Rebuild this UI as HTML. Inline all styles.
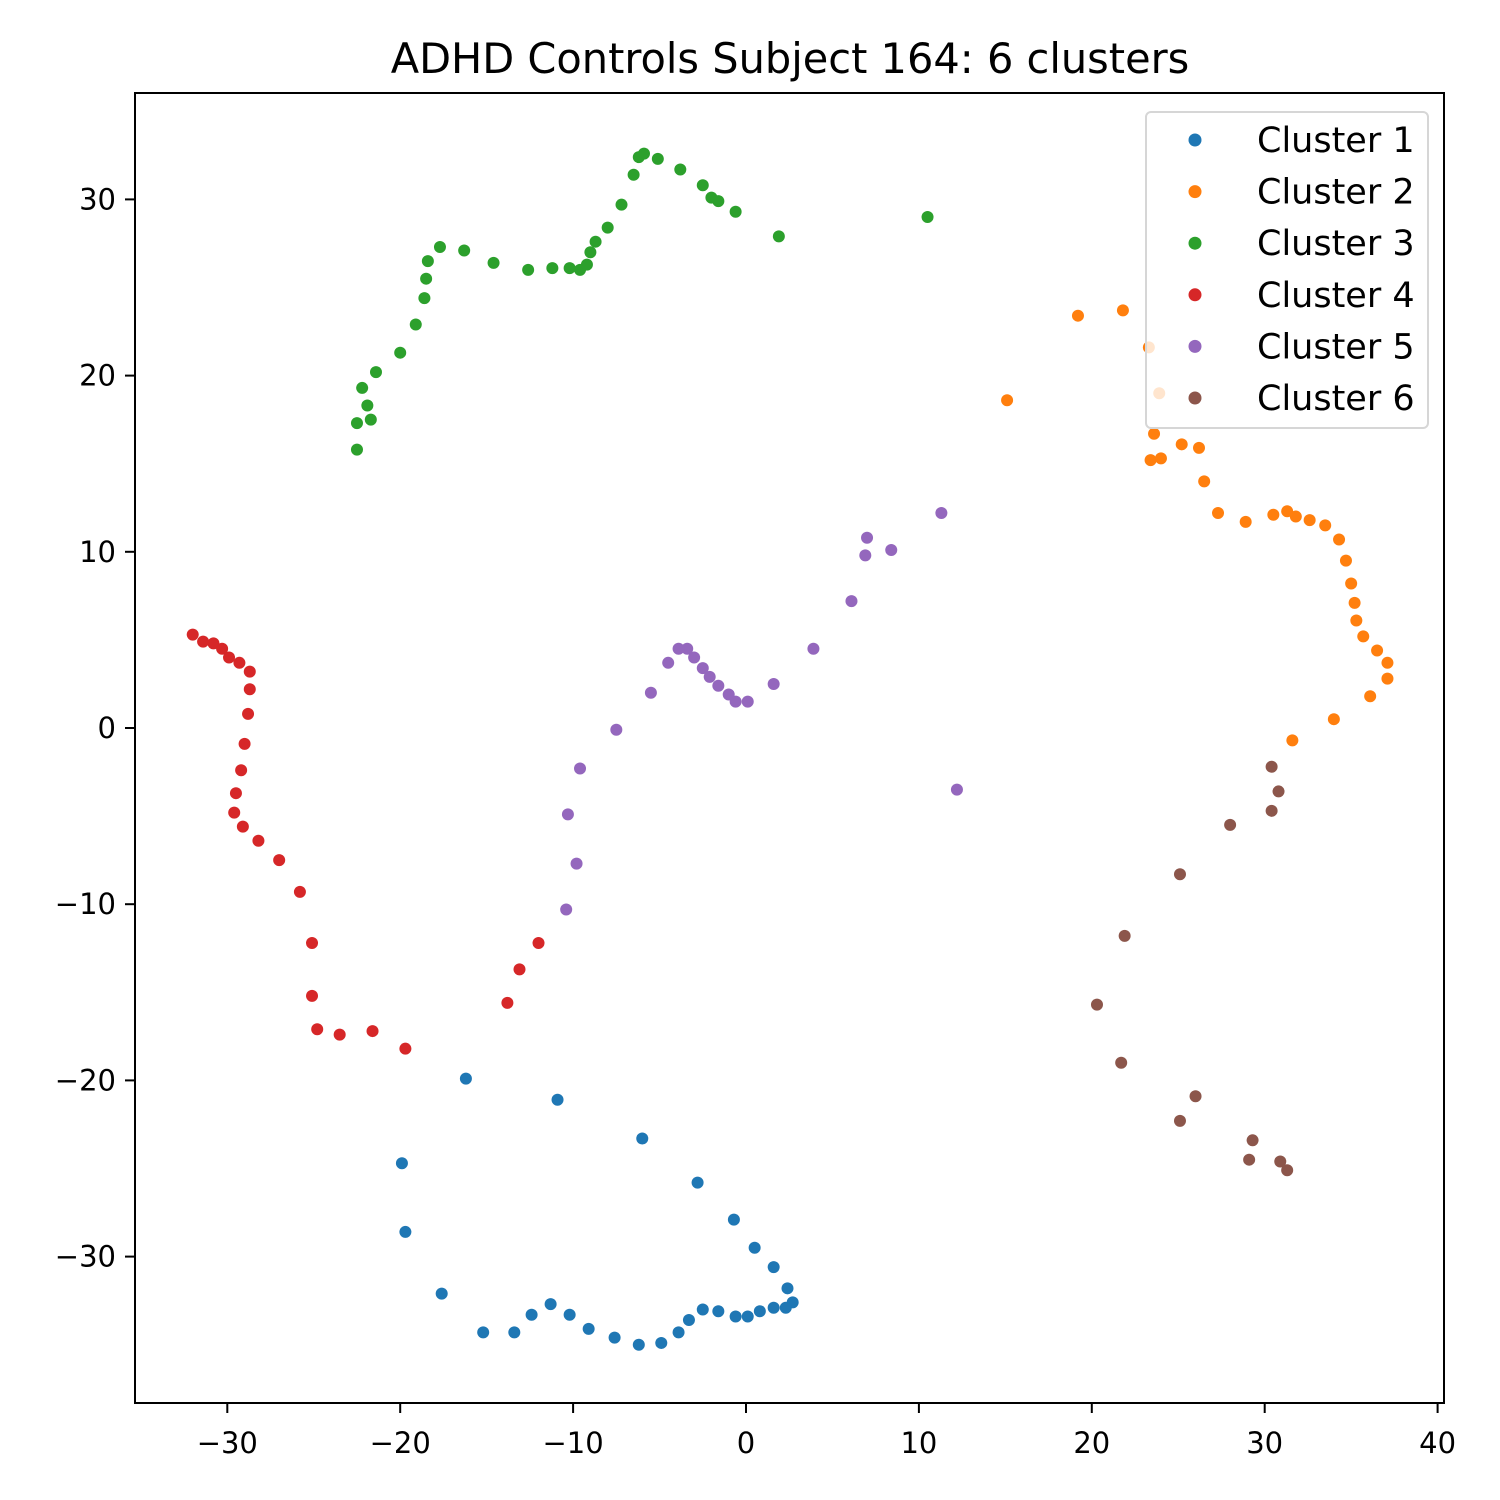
<!DOCTYPE html>
<html><head><meta charset="utf-8"><style>
html,body{margin:0;padding:0;background:#fff;}
svg{display:block;font-family:"DejaVu Sans","Liberation Sans",sans-serif;}
</style></head><body>
<svg id="chart" width="1500" height="1500" viewBox="0 0 1500 1500" xmlns="http://www.w3.org/2000/svg">
<rect width="1500" height="1500" fill="#fff"/>
<text x="790" y="73" font-size="41.5" text-anchor="middle">ADHD Controls Subject 164: 6 clusters</text>
<g id="points"></g>
<rect x="135" y="93" width="1309" height="1310" fill="none" stroke="#000" stroke-width="2"/>
<g id="ticks"></g>
<g id="legend"></g>
</svg>
<script>
const c1x=[-16.2,-10.9,-19.9,-6.0,-19.7,-2.8,-17.6,-0.7,0.5,1.6,2.4,2.7,2.3,1.6,0.8,0.1,-0.6,-1.6,-2.5,-3.3,-3.9,-4.9,-6.2,-7.6,-9.1,-10.2,-11.3,-12.4,-13.4,-15.2];
const c1y=[-19.9,-21.1,-24.7,-23.3,-28.6,-25.8,-32.1,-27.9,-29.5,-30.6,-31.8,-32.6,-32.9,-32.9,-33.1,-33.4,-33.4,-33.1,-33.0,-33.6,-34.3,-34.9,-35.0,-34.6,-34.1,-33.3,-32.7,-33.3,-34.3,-34.3];
const c2x=[15.1,19.2,21.8,23.3,23.9,23.6,23.4,24.0,25.2,26.2,26.5,27.3,28.9,30.5,31.3,31.8,32.6,33.5,34.3,34.7,35.0,35.2,35.3,35.7,36.5,37.1,37.1,36.1,34.0,31.6];
const c2y=[18.6,23.4,23.7,21.6,19.0,16.7,15.2,15.3,16.1,15.9,14.0,12.2,11.7,12.1,12.3,12.0,11.8,11.5,10.7,9.5,8.2,7.1,6.1,5.2,4.4,3.7,2.8,1.8,0.5,-0.7];
const c3x=[-22.5,-22.5,-21.7,-21.9,-22.2,-21.4,-20.0,-19.1,-18.6,-18.5,-18.4,-17.7,-16.3,-14.6,-12.6,-11.2,-10.2,-9.6,-9.2,-9.0,-8.7,-8.0,-7.2,-6.5,-6.2,-5.9,-5.1,-3.8,-2.5,-2.0,-1.6,-0.6,1.9,10.5];
const c3y=[15.8,17.3,17.5,18.3,19.3,20.2,21.3,22.9,24.4,25.5,26.5,27.3,27.1,26.4,26.0,26.1,26.1,26.0,26.3,27.0,27.6,28.4,29.7,31.4,32.4,32.6,32.3,31.7,30.8,30.1,29.9,29.3,27.9,29.0];
const c4x=[-32.0,-31.4,-30.8,-30.3,-29.9,-29.3,-28.7,-28.7,-28.8,-29.0,-29.2,-29.5,-29.6,-29.1,-28.2,-27.0,-25.8,-25.1,-25.1,-24.8,-23.5,-21.6,-19.7,-13.8,-13.1,-12.0];
const c4y=[5.3,4.9,4.8,4.5,4.0,3.7,3.2,2.2,0.8,-0.9,-2.4,-3.7,-4.8,-5.6,-6.4,-7.5,-9.3,-12.2,-15.2,-17.1,-17.4,-17.2,-18.2,-15.6,-13.7,-12.2];
const c5x=[11.3,7.0,6.9,8.4,6.1,3.9,1.6,0.1,-0.6,-1.0,-1.6,-2.1,-2.5,-3.0,-3.4,-3.9,-4.5,-5.5,-7.5,-9.6,-10.3,-9.8,-10.4,12.2];
const c5y=[12.2,10.8,9.8,10.1,7.2,4.5,2.5,1.5,1.5,1.9,2.4,2.9,3.4,4.0,4.5,4.5,3.7,2.0,-0.1,-2.3,-4.9,-7.7,-10.3,-3.5];
const c6x=[30.4,30.8,30.4,28.0,25.1,21.9,20.3,21.7,26.0,25.1,29.3,29.1,30.9,31.3];
const c6y=[-2.2,-3.6,-4.7,-5.5,-8.3,-11.8,-15.7,-19.0,-20.9,-22.3,-23.4,-24.5,-24.6,-25.1];
const seriesNames=["Cluster 1","Cluster 2","Cluster 3","Cluster 4","Cluster 5","Cluster 6"];
const seriesColors=["#1f77b4","#ff7f0e","#2ca02c","#d62728","#9467bd","#8c564b"];
const xTicks=[-30,-20,-10,0,10,20,30,40];
const yTicks=[-30,-20,-10,0,10,20,30];

const NS="http://www.w3.org/2000/svg";
function X(v){return 746+17.29*v;}
function Y(v){return 728-17.62*v;}
const xs=[c1x,c2x,c3x,c4x,c5x,c6x], ys=[c1y,c2y,c3y,c4y,c5y,c6y];
const gp=document.getElementById('points');
xs.forEach((arr,s)=>{
  arr.forEach((v,i)=>{
    const c=document.createElementNS(NS,'circle');
    c.setAttribute('cx',X(v));c.setAttribute('cy',Y(ys[s][i]));c.setAttribute('r',6);
    c.setAttribute('fill',seriesColors[s]);
    
    
    gp.appendChild(c);
  });
});
const gt=document.getElementById('ticks');
xTicks.forEach(t=>{
  const l=document.createElementNS(NS,'line');
  l.setAttribute('x1',X(t));l.setAttribute('x2',X(t));l.setAttribute('y1',1403);l.setAttribute('y2',1413);
  l.setAttribute('stroke','#000');l.setAttribute('stroke-width',2);
  
  
  gt.appendChild(l);
  const tx=document.createElementNS(NS,'text');
  tx.setAttribute('x',X(t));tx.setAttribute('y',1453);tx.setAttribute('font-size',29);tx.setAttribute('text-anchor','middle');
  tx.textContent=(t<0?'\u2212'+(-t):t);
  
  
  gt.appendChild(tx);
});
yTicks.forEach(t=>{
  const l=document.createElementNS(NS,'line');
  l.setAttribute('x1',125);l.setAttribute('x2',135);l.setAttribute('y1',Y(t));l.setAttribute('y2',Y(t));
  l.setAttribute('stroke','#000');l.setAttribute('stroke-width',2);
  
  
  gt.appendChild(l);
  const tx=document.createElementNS(NS,'text');
  tx.setAttribute('x',116);tx.setAttribute('y',Y(t)+10);tx.setAttribute('font-size',29);tx.setAttribute('text-anchor','end');
  tx.textContent=(t<0?'\u2212'+(-t):t);
  
  
  gt.appendChild(tx);
});
const gl=document.getElementById('legend');
const box=document.createElementNS(NS,'rect');
box.setAttribute('x',1146);box.setAttribute('y',112);box.setAttribute('width',282);box.setAttribute('height',316);box.setAttribute('rx',5);
box.setAttribute('fill','rgba(255,255,255,0.8)');box.setAttribute('stroke','#d6d6d6');box.setAttribute('stroke-width',2);


gl.appendChild(box);
seriesNames.forEach((n,i)=>{
  const cy=140+51.6*i;
  const c=document.createElementNS(NS,'circle');
  c.setAttribute('cx',1195);c.setAttribute('cy',cy);c.setAttribute('r',6.5);c.setAttribute('fill',seriesColors[i]);
  
  
  gl.appendChild(c);
  const t=document.createElementNS(NS,'text');
  t.setAttribute('x',1257);t.setAttribute('y',cy+12);t.setAttribute('font-size',35);
  t.textContent=n;
  
  
  gl.appendChild(t);
});
</script>
</body></html>
